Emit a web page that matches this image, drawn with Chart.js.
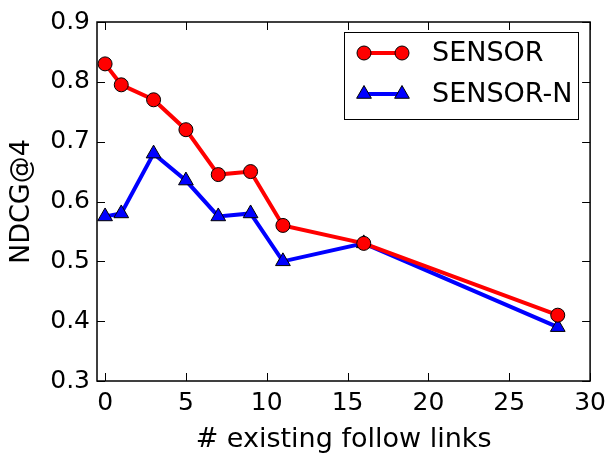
<!DOCTYPE html>
<html>
<head>
<meta charset="utf-8">
<script src="https://cdn.jsdelivr.net/npm/chart.js@4/dist/chart.umd.min.js"></script>
<style>
  html, body { margin: 0; padding: 0; background: #fff; }
  #wrap { width: 613px; height: 453px; }
</style>
</head>
<body>
<div id="wrap"><canvas id="chart" width="613" height="453"></canvas></div>
<script>
// datos
const followLinks = [0, 1, 3, 5, 7, 9, 11, 16, 28];
const sensor = [0.83, 0.795, 0.77, 0.72, 0.645, 0.65, 0.56, 0.53, 0.41];
const sensorN = [0.575, 0.58, 0.68, 0.635, 0.575, 0.58, 0.5, 0.53, 0.39];
const xTicks = [0, 5, 10, 15, 20, 25, 30];
const yTicks = [0.3, 0.4, 0.5, 0.6, 0.7, 0.8, 0.9];

const FONT = 'DejaVu Sans';

function toPoints(values) {
    return followLinks.map((x, i) => ({ x: x, y: values[i] }));
}

// marco completo y ticks hacia adentro (estilo matplotlib)
const framePlugin = {
    id: 'frame',
    afterDatasetsDraw(chart) {
        const { ctx, chartArea: a, scales } = chart;
        const len = 8;
        ctx.save();
        ctx.strokeStyle = '#000';
        ctx.lineWidth = 1;
        ctx.beginPath();
        xTicks.forEach(v => {
            const px = Math.round(scales.x.getPixelForValue(v)) + 0.5;
            ctx.moveTo(px, a.bottom); ctx.lineTo(px, a.bottom - len);
            ctx.moveTo(px, a.top); ctx.lineTo(px, a.top + len);
        });
        yTicks.forEach(v => {
            const py = Math.round(scales.y.getPixelForValue(v)) + 0.5;
            ctx.moveTo(a.left, py); ctx.lineTo(a.left + len, py);
            ctx.moveTo(a.right, py); ctx.lineTo(a.right - len, py);
        });
        ctx.stroke();
        ctx.lineWidth = 1.5;
        ctx.strokeRect(a.left, a.top, a.right - a.left, a.bottom - a.top);
        ctx.restore();
    }
};

// leyenda con dos marcadores por entrada
const legendPlugin = {
    id: 'mplLegend',
    afterDraw(chart) {
        const ctx = chart.ctx;
        const box = { x: 344.5, y: 32.5, w: 234, h: 87 };
        ctx.save();
        ctx.fillStyle = '#fff';
        ctx.fillRect(box.x, box.y, box.w, box.h);
        ctx.strokeStyle = '#000';
        ctx.lineWidth = 1;
        ctx.strokeRect(box.x, box.y, box.w, box.h);
        const rows = [53, 94];
        chart.data.datasets.forEach((ds, i) => {
            const y = rows[i];
            ctx.strokeStyle = ds.borderColor;
            ctx.lineWidth = ds.borderWidth;
            ctx.beginPath();
            ctx.moveTo(364, y); ctx.lineTo(402, y);
            ctx.stroke();
            [364, 402].forEach(x => {
                ctx.fillStyle = ds.pointBackgroundColor;
                ctx.strokeStyle = '#000';
                ctx.lineWidth = 1;
                Chart.helpers.drawPoint(ctx, {
                    pointStyle: ds.pointStyle,
                    radius: ds.pointRadius,
                    borderWidth: 1,
                    rotation: 0
                }, x, y);
            });
            ctx.fillStyle = '#000';
            ctx.font = '27px "' + FONT + '"';
            ctx.textBaseline = 'middle';
            ctx.textAlign = 'left';
            ctx.fillText(ds.label, 432, y + 1);
        });
        ctx.restore();
    }
};

const ctx = document.getElementById('chart').getContext('2d');
new Chart(ctx, {
    type: 'line',
    data: {
        datasets: [{
            label: 'SENSOR',
            data: toPoints(sensor),
            borderColor: '#ff0000',
            borderWidth: 4,
            pointStyle: 'circle',
            pointRadius: 7,
            pointBackgroundColor: '#ff0000',
            pointBorderColor: '#000',
            pointBorderWidth: 1,
            tension: 0
        }, {
            label: 'SENSOR-N',
            data: toPoints(sensorN),
            borderColor: '#0000ff',
            borderWidth: 4,
            pointStyle: 'triangle',
            pointRadius: 8.5,
            pointBackgroundColor: '#0000ff',
            pointBorderColor: '#000',
            pointBorderWidth: 1,
            tension: 0
        }]
    },
    options: {
        responsive: false,
        animation: false,
        devicePixelRatio: 1,
        layout: { padding: { top: 18, right: 21, left: 0, bottom: 0 } },
        plugins: {
            legend: { display: false },
            tooltip: { enabled: false }
        },
        scales: {
            x: {
                type: 'linear',
                min: -0.5,
                max: 30,
                afterBuildTicks: scale => { scale.ticks = xTicks.map(v => ({ value: v })); },
                afterFit: scale => { scale.height = 72; },
                grid: { display: false, drawTicks: false },
                border: { display: false },
                ticks: {
                    color: '#000',
                    padding: 7,
                    maxRotation: 0,
                    font: { family: FONT, size: 25 }
                },
                title: {
                    display: true,
                    text: '# existing follow links',
                    color: '#000',
                    font: { family: FONT, size: 27, lineHeight: 1 },
                    padding: { top: 0, bottom: 0 }
                }
            },
            y: {
                type: 'linear',
                min: 0.3,
                max: 0.9,
                afterBuildTicks: scale => { scale.ticks = yTicks.map(v => ({ value: v })); },
                afterFit: scale => { scale.width = 97; },
                grid: { display: false, drawTicks: false },
                border: { display: false },
                ticks: {
                    color: '#000',
                    padding: 7,
                    font: { family: FONT, size: 25 },
                    callback: v => v.toFixed(1)
                },
                title: {
                    display: true,
                    text: 'NDCG@4',
                    color: '#000',
                    font: { family: FONT, size: 27, lineHeight: 1 },
                    padding: { top: 8, bottom: 0 }
                }
            }
        }
    },
    plugins: [framePlugin, legendPlugin]
});
</script>
</body>
</html>
